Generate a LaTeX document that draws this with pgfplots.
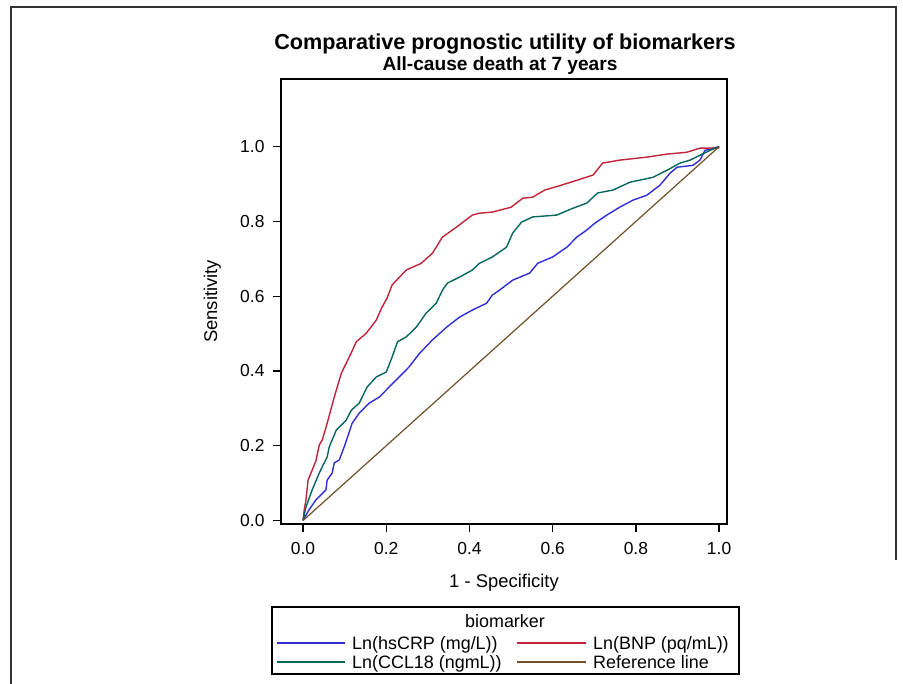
\documentclass[border=0pt]{standalone}
\usepackage{pgfplots}
\pgfplotsset{compat=1.18}
\usepackage{fontspec}
\setmainfont{Liberation Sans}
\definecolor{cblue}{RGB}{48,44,214}
\definecolor{cred}{RGB}{192,36,58}
\definecolor{cteal}{RGB}{4,102,94}
\definecolor{cbrown}{RGB}{112,80,40}
\definecolor{frame}{RGB}{50,50,50}
\begin{document}
\begin{tikzpicture}
\path[use as bounding box] (0bp,0bp) rectangle (903bp,-684bp);
\draw[frame, line width=2bp] (11bp,-690bp) -- (11bp,-7bp) -- (896bp,-7bp) -- (896bp,-560bp);
\node[anchor=base, font=\fontsize{21.7}{26}\selectfont\bfseries] at (505bp,-49bp) {Comparative prognostic utility of biomarkers};
\node[anchor=base, font=\fontsize{19.2}{23}\selectfont\bfseries] at (500bp,-70bp) {All-cause death at 7 years};
\begin{axis}[
  at={(281bp,-524bp)}, anchor=south west,
  scale only axis, width=446bp, height=445bp,
  xmin=-0.053, xmax=1.019, ymin=-0.0094, ymax=1.181,
  xtick={0,0.2,0.4,0.6,0.8,1.0}, ytick={0,0.2,0.4,0.6,0.8,1.0},
  xticklabels={0.0,0.2,0.4,0.6,0.8,1.0}, yticklabels={0.0,0.2,0.4,0.6,0.8,1.0},
  tick align=outside, tick pos=left,
  major tick length=8bp,
  every tick/.style={black, line width=1.3bp},
  axis line style={black, line width=1.6bp},
  /pgf/number format/assume math mode=true,
  ticklabel style={font=\fontsize{17.5}{21}\selectfont},
  xticklabel style={anchor=base, yshift=-22bp},
  yticklabel style={anchor=east, xshift=-5bp},
  xlabel={1 - Specificity}, ylabel={Sensitivity},
  label style={font=\fontsize{18.5}{22}\selectfont},
  xlabel style={at={(axis description cs:0.5,-0.1438)}, anchor=base},
  ylabel style={at={(axis description cs:-0.1435,0.5)}, anchor=base},
  clip=false,
]
\addplot[cblue, line width=1.4bp] coordinates {
(0,0) (0.014,0.028) (0.031,0.055) (0.055,0.082) (0.058,0.108) (0.07,0.127) (0.075,0.154) (0.087,0.162) (0.1,0.2) (0.118,0.26) (0.135,0.287) (0.159,0.314) (0.183,0.33) (0.207,0.357) (0.231,0.384) (0.255,0.411) (0.28,0.447) (0.311,0.483) (0.345,0.517) (0.376,0.544) (0.407,0.563) (0.441,0.581) (0.455,0.603) (0.472,0.616) (0.504,0.643) (0.545,0.662) (0.564,0.688) (0.6,0.705) (0.634,0.731) (0.658,0.758) (0.682,0.777) (0.701,0.795) (0.73,0.817) (0.761,0.838) (0.793,0.857) (0.826,0.87) (0.858,0.897) (0.882,0.929) (0.899,0.945) (0.937,0.95) (0.954,0.964) (0.966,0.99) (0.986,0.996) (1,1)
};
\addplot[cred, line width=1.4bp] coordinates {
(0,0) (0.003,0.03) (0.007,0.055) (0.012,0.108) (0.022,0.135) (0.031,0.16) (0.039,0.202) (0.046,0.215) (0.058,0.26) (0.075,0.33) (0.092,0.394) (0.111,0.437) (0.128,0.478) (0.152,0.501) (0.176,0.536) (0.19,0.571) (0.202,0.595) (0.214,0.63) (0.231,0.65) (0.248,0.67) (0.284,0.688) (0.311,0.715) (0.335,0.758) (0.369,0.785) (0.407,0.817) (0.424,0.822) (0.455,0.825) (0.5,0.838) (0.528,0.862) (0.552,0.865) (0.581,0.884) (0.612,0.894) (0.658,0.91) (0.697,0.924) (0.72,0.956) (0.761,0.964) (0.826,0.972) (0.874,0.98) (0.922,0.985) (0.954,0.996) (0.998,0.996) (1,1)
};
\addplot[cteal, line width=1.4bp] coordinates {
(0,0) (0.007,0.036) (0.022,0.082) (0.039,0.127) (0.046,0.143) (0.058,0.17) (0.063,0.197) (0.08,0.242) (0.104,0.269) (0.116,0.295) (0.135,0.314) (0.154,0.357) (0.176,0.384) (0.2,0.397) (0.214,0.437) (0.227,0.478) (0.248,0.491) (0.272,0.517) (0.296,0.555) (0.32,0.581) (0.335,0.616) (0.347,0.635) (0.376,0.651) (0.407,0.67) (0.424,0.688) (0.455,0.705) (0.489,0.731) (0.504,0.769) (0.525,0.798) (0.552,0.812) (0.61,0.817) (0.648,0.835) (0.682,0.849) (0.708,0.876) (0.745,0.884) (0.786,0.905) (0.841,0.918) (0.875,0.937) (0.906,0.956) (0.93,0.964) (0.954,0.977) (0.978,0.99) (1,1)
};
\addplot[cbrown, line width=1.2bp] coordinates {(0,0) (1,1)};
\end{axis}
% legend
\draw[black, line width=1.3bp] (272bp,-607bp) rectangle (739bp,-674bp);
\begin{scope}[every node/.style={font=\fontsize{18}{21}\selectfont, inner sep=0pt}]
\node[anchor=base] at (505bp,-627bp) {biomarker};
\draw[cblue, line width=1.4bp] (277bp,-643bp) -- (345bp,-643bp);
\node[anchor=base west] at (352bp,-649bp) {Ln(hsCRP (mg/L))};
\draw[cred, line width=1.4bp] (517bp,-643bp) -- (586bp,-643bp);
\node[anchor=base west] at (593bp,-649bp) {Ln(BNP (pq/mL))};
\draw[cteal, line width=1.4bp] (277bp,-662bp) -- (345bp,-662bp);
\node[anchor=base west] at (352bp,-668bp) {Ln(CCL18 (ngmL))};
\draw[cbrown, line width=1.4bp] (517bp,-662bp) -- (586bp,-662bp);
\node[anchor=base west] at (593bp,-668bp) {Reference line};
\end{scope}
\end{tikzpicture}
\end{document}
